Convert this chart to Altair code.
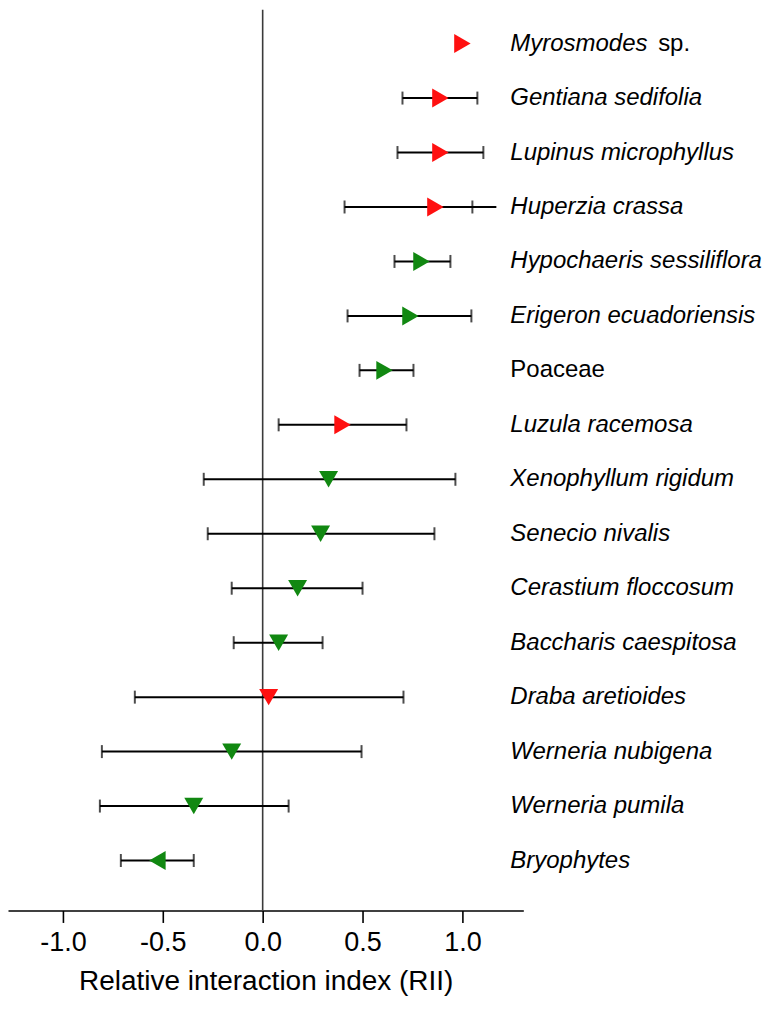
import altair as alt
import pandas as pd

species = ["Myrosmodes", "Gentiana sedifolia", "Lupinus microphyllus", "Huperzia crassa",
           "Hypochaeris sessiliflora", "Erigeron ecuadoriensis", "Poaceae", "Luzula racemosa",
           "Xenophyllum rigidum", "Senecio nivalis", "Cerastium floccosum", "Baccharis caespitosa",
           "Draba aretioides", "Werneria nubigena", "Werneria pumila", "Bryophytes"]
suffix = [" sp.", "", "", "", "", "", "", "", "", "", "", "", "", "", "", ""]
italic = [True, True, True, True, True, True, False, True,
          True, True, True, True, True, True, True, True]
rii = [1.00, 0.89, 0.89, 0.865, 0.795, 0.74, 0.61, 0.40,
       0.33, 0.29, 0.175, 0.08, 0.03, -0.155, -0.345, -0.527]
ci_low = [None, 0.70, 0.675, 0.41, 0.66, 0.425, 0.485, 0.08,
          -0.295, -0.275, -0.155, -0.145, -0.64, -0.805, -0.815, -0.71]
ci_high = [None, 1.075, 1.105, 1.17, 0.94, 1.045, 0.755, 0.72,
           0.965, 0.86, 0.50, 0.30, 0.705, 0.495, 0.13, -0.345]
cap_high = [None, 1.075, 1.105, 1.05, 0.94, 1.045, 0.755, 0.72,
            0.965, 0.86, 0.50, 0.30, 0.705, 0.495, 0.13, -0.345]
effect = ["red", "red", "red", "red", "green", "green", "green", "red",
          "green", "green", "green", "green", "red", "green", "green", "green"]
direction = ["right", "right", "right", "right", "right", "right", "right", "right",
             "down", "down", "down", "down", "down", "down", "down", "left"]
tick_values = [-1.0, -0.5, 0.0, 0.5, 1.0]

df = pd.DataFrame({
    "species": species, "suffix": suffix, "italic": italic, "rii": rii,
    "ci_low": ci_low, "ci_high": ci_high, "cap_high": cap_high,
    "effect": effect, "direction": direction,
})
df["row"] = range(len(df))

FONT = "Liberation Sans"
TITLE = "Relative interaction index (RII)"
LABEL_SIZE = 24
xscale = alt.Scale(domain=[-1.275, 1.305], nice=False, zero=False)
yscale = alt.Scale(domain=[-0.6235, 15.917], reverse=True, nice=False, zero=False)
Y = alt.Y("row:Q", scale=yscale, axis=None)

base = alt.Chart(df)

zero_line = alt.Chart(pd.DataFrame({"z": [0.0]})).mark_rule(color="#3a3a3a", strokeWidth=1.6).encode(
    x=alt.X("z:Q", scale=xscale, title=TITLE)
)

bars = base.transform_filter("isValid(datum.ci_low)").mark_rule(color="black", strokeWidth=2).encode(
    x=alt.X("ci_low:Q", scale=xscale, title=TITLE), x2="ci_high:Q", y=Y
)
cap_lo = base.transform_filter("isValid(datum.ci_low)").mark_tick(
    orient="vertical", color="black", size=13, thickness=2).encode(
    x=alt.X("ci_low:Q", scale=xscale, title=TITLE), y=Y
)
cap_hi = base.transform_filter("isValid(datum.cap_high)").mark_tick(
    orient="vertical", color="black", size=13, thickness=2).encode(
    x=alt.X("cap_high:Q", scale=xscale, title=TITLE), y=Y
)

points = base.mark_point(filled=True, size=361, opacity=1).encode(
    x=alt.X("rii:Q", scale=xscale, title=TITLE,
            axis=alt.Axis(values=tick_values,
                          labelExpr="(datum.value < 0 ? '-' : '') + format(abs(datum.value), '.1f')")),
    y=Y,
    color=alt.Color("effect:N", scale=alt.Scale(domain=["red", "green"], range=["#ff1010", "#118811"]), legend=None),
    shape=alt.Shape("direction:N", scale=alt.Scale(domain=["right", "down", "left"],
                    range=["triangle-right", "triangle-down", "triangle-left"]), legend=None),
)

labels_it = base.transform_filter("datum.italic").mark_text(
    align="left", baseline="middle", font=FONT, fontSize=LABEL_SIZE, fontStyle="italic", color="black").encode(
    x=alt.value(503), y=Y, text="species:N"
)
labels_rm = base.transform_filter("!datum.italic").mark_text(
    align="left", baseline="middle", font=FONT, fontSize=LABEL_SIZE, color="black").encode(
    x=alt.value(503), y=Y, text="species:N"
)
labels_sfx = base.transform_filter("datum.suffix != ''").mark_text(
    align="left", baseline="middle", font=FONT, fontSize=LABEL_SIZE, color="black").encode(
    x=alt.value(651), y=Y, text="suffix:N"
)

chart = alt.layer(zero_line, bars, cap_lo, cap_hi, points, labels_it, labels_rm, labels_sfx).properties(
    width=516, height=902, padding=0
).configure_view(stroke=None).configure_axis(
    grid=False, domainColor="black", domainWidth=1.6, tickColor="black", tickWidth=1.6,
    tickSize=12, labelFont=FONT, labelFontSize=27, labelColor="black", labelPadding=7,
    titleFont=FONT, titleFontSize=28, titleFontWeight="normal", titleColor="black", titlePadding=12
)

chart.save("out.html", embed_options={"renderer": "svg", "actions": False})
